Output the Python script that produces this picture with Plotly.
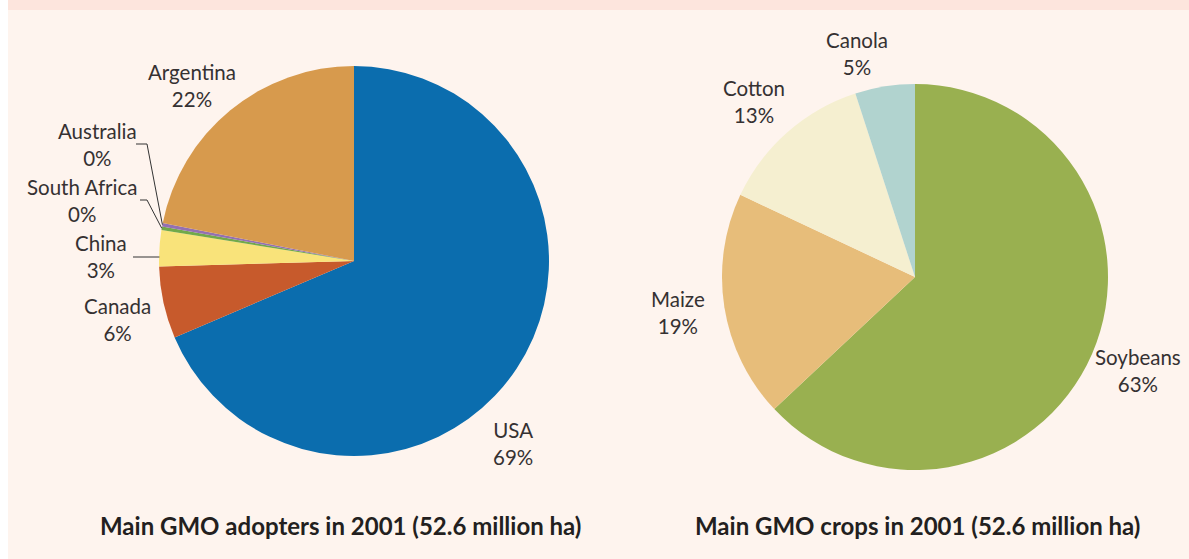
import numpy as np
import plotly.graph_objects as go

# Country shares of GM crop area (percent); the two smallest round to 0%
countries = ["USA", "Canada", "China", "South Africa", "Australia", "Argentina"]
country_share = [69, 6, 3, 0.3, 0.3, 22]
country_colors = ["#0B6DAE", "#C75A2C", "#F9E37A", "#72A94A", "#9470B2", "#D79A4D"]

# Crop shares of GM crop area (percent)
crops = ["Soybeans", "Maize", "Cotton", "Canola"]
crop_share = [63, 19, 13, 5]
crop_colors = ["#99B050", "#E7BD7A", "#F5EFD0", "#B1D3CF"]

titles = ["Main GMO adopters in 2001 (52.6 million ha)",
          "Main GMO crops in 2001 (52.6 million ha)"]

W, H = 1189, 559
FONT = "Lato"
TXT = "#353132"

# Pie placement in pixels: centre x, centre y, radius
left_pie = (354, 261, 195)
right_pie = (915, 277, 193)


def dom(cx, cy, r):
    return dict(x=[(cx - r) / W, (cx + r) / W], y=[1 - (cy + r) / H, 1 - (cy - r) / H])


def px(x, y):
    return x / W, 1 - y / H


def edge_point(pie, values, idx):
    # point on the rim at the middle of slice idx (clockwise from 12 o'clock)
    cx, cy, r = pie
    v = np.asarray(values, float)
    frac = (v[:idx].sum() + v[idx] / 2) / v.sum()
    th = 2 * np.pi * frac
    return cx + r * np.sin(th), cy - r * np.cos(th)


fig = go.Figure()
fig.add_trace(go.Pie(labels=countries, values=country_share, sort=False,
                     direction="clockwise", rotation=0, textinfo="none",
                     marker=dict(colors=country_colors, line=dict(width=0)),
                     domain=dom(*left_pie), showlegend=False, hoverinfo="label+percent"))
fig.add_trace(go.Pie(labels=crops, values=crop_share, sort=False,
                     direction="clockwise", rotation=0, textinfo="none",
                     marker=dict(colors=crop_colors, line=dict(width=0)),
                     domain=dom(*right_pie), showlegend=False, hoverinfo="label+percent"))

# Label positions (pixel centres of the two-line labels)
country_label_pos = {"USA": (513, 443), "Canada": (117, 319), "China": (101, 256),
                     "South Africa": (82, 200), "Australia": (97, 144), "Argentina": (192, 85)}
crop_label_pos = {"Soybeans": (1138, 370), "Maize": (678, 312), "Cotton": (754, 102),
                  "Canola": (857, 54)}

LABEL_FONT = dict(family=FONT, size=20.5, color=TXT)

annotations = []
for names, vals, pos in [(countries, country_share, country_label_pos),
                         (crops, crop_share, crop_label_pos)]:
    for name, val in zip(names, vals):
        x, y = px(*pos[name])
        annotations.append(dict(x=x, y=y, xref="paper", yref="paper", showarrow=False,
                                xanchor="center", yanchor="middle",
                                text=f"{name}<br>{round(val)}%", align="center",
                                font=LABEL_FONT))

for t, cx in zip(titles, [341, 918]):
    x, y = px(cx, 525)
    annotations.append(dict(x=x, y=y, xref="paper", yref="paper", showarrow=False,
                            xanchor="center", yanchor="middle",
                            text=f"<b>{t}</b>",
                            font=dict(family=FONT, size=24, color="#231F20")))

shapes = [
    # white margin on the left and the tinted band along the top
    dict(type="rect", xref="paper", yref="paper", x0=0, x1=8 / W, y0=0, y1=1,
         fillcolor="white", line=dict(width=0), layer="below"),
    dict(type="rect", xref="paper", yref="paper", x0=8 / W, x1=1, y0=1 - 10 / H, y1=1,
         fillcolor="#FDE5DD", line=dict(width=0), layer="below"),
]

# leader lines for the thin slices
leaders = {"Australia": (136, 144, 147), "South Africa": (140, 200, 147), "China": (133, 257, None)}
for name, (x0, y0, xe) in leaders.items():
    ex, ey = edge_point(left_pie, country_share, countries.index(name))
    if xe is None:
        pts = [(x0, y0), (ex, y0)]
    else:
        pts = [(x0, y0), (xe, y0), (ex, ey)]
    path = "M " + " L ".join(f"{px(a, b)[0]},{px(a, b)[1]}" for a, b in pts)
    shapes.append(dict(type="path", xref="paper", yref="paper", path=path,
                       line=dict(color="#333333", width=1)))

fig.update_layout(width=W, height=H, margin=dict(l=0, r=0, t=0, b=0),
                  paper_bgcolor="#FEF4EE", plot_bgcolor="#FEF4EE",
                  template="none", annotations=annotations, shapes=shapes)

fig.write_html("out.html")
